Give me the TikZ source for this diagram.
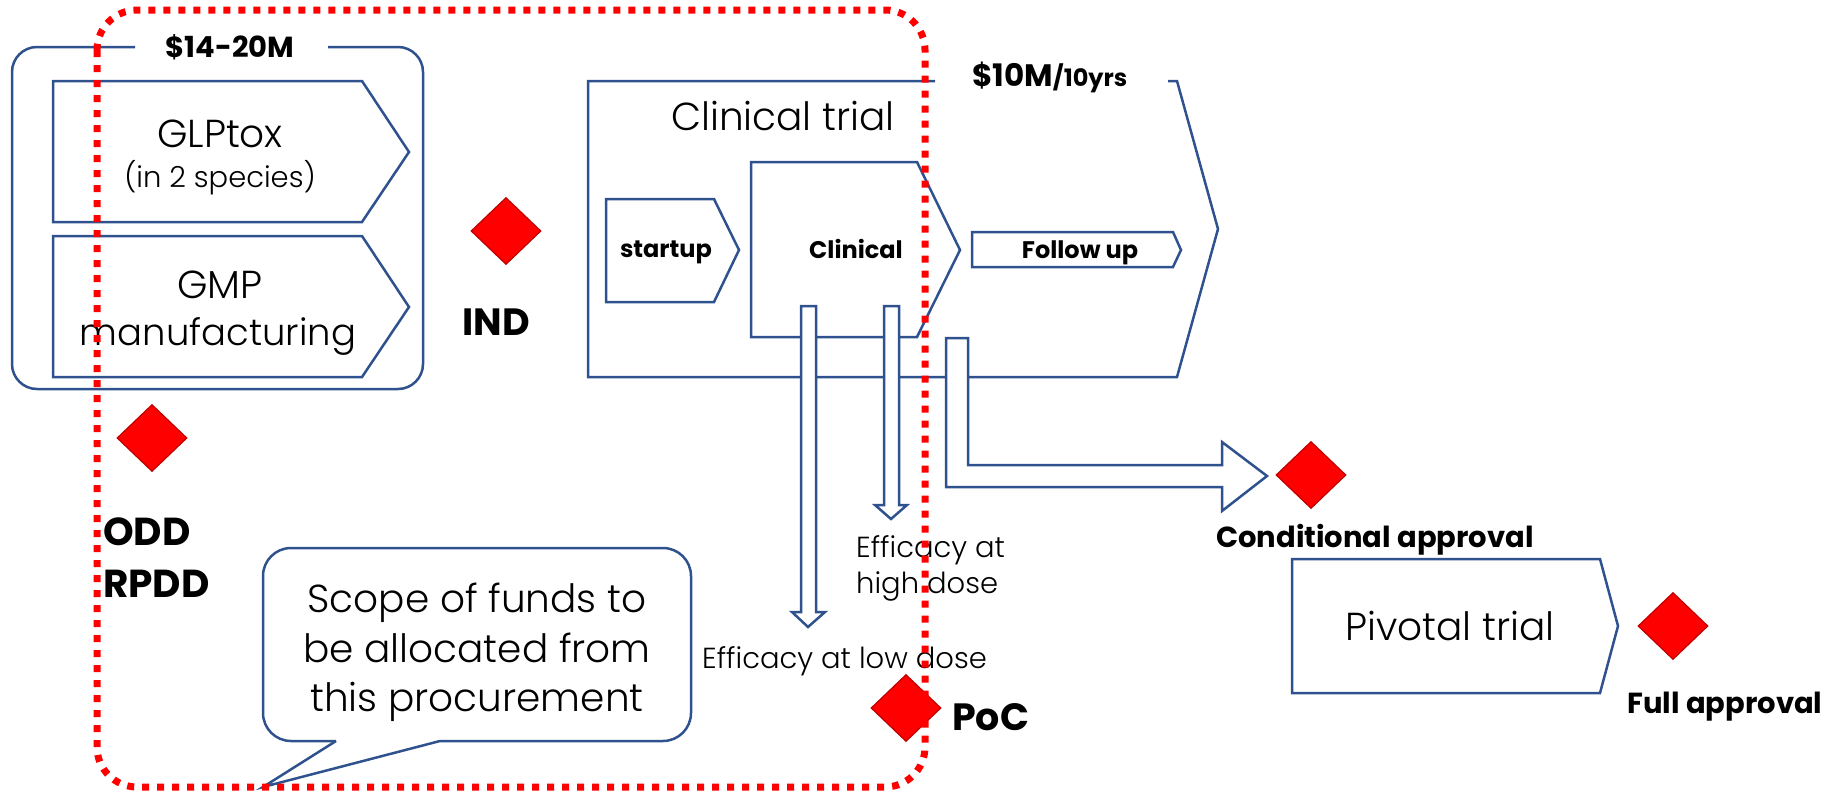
\documentclass[tikz,border=0pt]{standalone}
\usepackage{fontspec}
\IfFontExistsTF{Poppins Light}{\setmainfont{Poppins Light}[BoldFont={Poppins Bold}]}{\setmainfont{Poppins}}
\usetikzlibrary{shapes.geometric}
\definecolor{ppblue}{RGB}{47,82,143}
\definecolor{msred}{RGB}{192,0,0}
\tikzset{
  box/.style={draw=ppblue, line width=2.5pt},
  hollow/.style={draw=ppblue, line width=2.5pt, fill=white},
  milestone/.style={diamond, fill=red, draw=msred, line width=1.2pt, minimum width=70pt, minimum height=67pt, inner sep=0pt},
  scopeline/.style={draw=red, line width=7pt, dash pattern=on 7pt off 8pt, rounded corners=40pt},
  lbl/.style={inner sep=0pt, text depth=0pt},
  bigtxt/.style={lbl, text height=27.3pt, font=\fontsize{39}{47}\selectfont},
  smalltxt/.style={lbl, text height=20.3pt, font=\fontsize{29}{36}\selectfont},
  gatetxt/.style={lbl, text height=26.6pt, font=\bfseries\fontsize{38}{52}\selectfont},
  steptxt/.style={lbl, text height=16.8pt, font=\bfseries\fontsize{24}{30}\selectfont},
  apptxt/.style={lbl, text height=20.3pt, font=\bfseries\fontsize{29}{34}\selectfont},
}
\begin{document}
\begin{tikzpicture}[x=1pt,y=-1pt]
\useasboundingbox (0,0) rectangle (1832,795);
\draw[box, rounded corners=25pt] (135,47) -- (12,47) -- (12,389) -- (423,389) -- (423,47) -- (328,47);
\node[apptxt] (pre) at (230,47) {\$14-20M};
\draw[box] (53,81) -- (362,81) -- (409,152) -- (362,222) -- (53,222) -- cycle;
\draw[box] (53,236) -- (362,236) -- (409,307) -- (362,377) -- (53,377) -- cycle;
\node[bigtxt] (glp) at (220,134) {GLPtox};
\node[smalltxt] (glp2) at (220,177) {(in 2 species)};
\node[bigtxt] (gmp) at (220,285) {GMP};
\node[lbl, text height=25.9pt, font=\fontsize{37}{45}\selectfont] (gmp2) at (218,333) {manufacturing};
\node[milestone] (ind) at (506,231) {};
\node[gatetxt] (indtxt) at (496,322) {IND};
\node[milestone] (odd) at (152,438) {};
\node[inner sep=0pt, anchor=north west, align=left, font=\bfseries\fontsize{39}{52}\selectfont] (oddtxt) at (103,518) {ODD\\RPDD};
\draw[box] (935,81) -- (588,81) -- (588,377) -- (1177,377) -- (1218,229) -- (1177,81) -- (1168,81);
\node[lbl, text height=21.7pt, font=\bfseries\fontsize{31}{36}\selectfont, anchor=west] (cost) at (972,76) {\$10M{\fontsize{24}{28}\selectfont/10yrs}};
\node[bigtxt] (trial) at (783,117) {Clinical trial};
\draw[box] (606,199) -- (714,199) -- (739,250) -- (714,302) -- (606,302) -- cycle;
\draw[box] (751,162) -- (917,162) -- (960,250) -- (917,337) -- (751,337) -- cycle;
\draw[box] (972,232) -- (1173,232) -- (1181,250) -- (1173,267) -- (972,267) -- cycle;
\node[steptxt] (startup) at (666,249) {startup};
\node[steptxt] (clin) at (856,250) {Clinical};
\node[steptxt] (follow) at (1080,250) {Follow up};
\draw[hollow] (801,306) -- (816,306) -- (816,612) -- (825,612) -- (808,627) -- (792,612) -- (801,612) -- cycle;
\draw[hollow] (884,306) -- (899,306) -- (899,505) -- (907,505) -- (891,519) -- (875,505) -- (884,505) -- cycle;
\draw[hollow] (946,338) -- (968,338) -- (968,465) -- (1222,465) -- (1222,442) -- (1267,476) -- (1222,511) -- (1222,487) -- (946,487) -- cycle;
\node[inner sep=0pt, anchor=north west, align=left, font=\fontsize{29}{36}\selectfont] (high) at (856,535) {Efficacy at\\high dose};
\node[smalltxt, anchor=west] (low) at (702,658) {Efficacy at low dose};
\node[milestone] (poc) at (906,708) {};
\node[gatetxt, anchor=west] (poctxt) at (952,717) {PoC};
\node[milestone] (ca) at (1311,475) {};
\node[apptxt] (catxt) at (1375,537) {Conditional approval};
\draw[box] (1292,559) -- (1600,559) -- (1618,626) -- (1600,693) -- (1292,693) -- cycle;
\node[bigtxt] (pivot) at (1450,627) {Pivotal trial};
\node[milestone] (fa) at (1673,626) {};
\node[apptxt] (fatxt) at (1725,703) {Full approval};
\draw[box, rounded corners=28pt] (336,741) -- (263,741) -- (263,548) -- (691,548) -- (691,741) -- (440,741);
\draw[box, line join=miter] (440,741) -- (263,787) -- (336,741);
\node[inner sep=0pt, anchor=north, align=center, font=\fontsize{39}{49.5}\selectfont] (scope) at (477,583) {Scope of funds to\\be allocated from\\this procurement};
\draw[scopeline] (97,10) rectangle (925,787);
\end{tikzpicture}
\end{document}
